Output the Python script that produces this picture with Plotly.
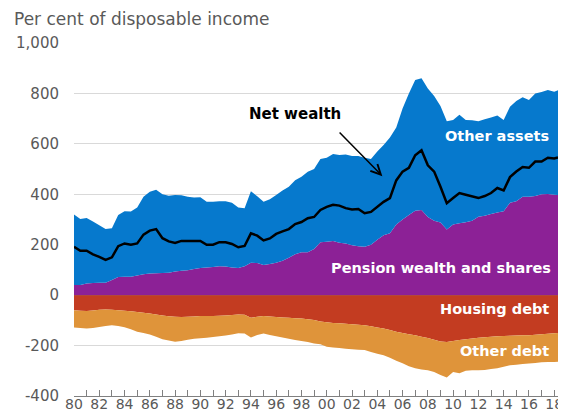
import plotly.graph_objects as go

# Half-yearly observations, 1980 to mid-2018 (per cent of disposable income)
periods = [1980 + 0.5 * i for i in range(77)] + [2018.3]

total_assets = [320, 302, 306, 292, 277, 262, 265, 318, 333, 332,
                348, 390, 410, 418, 400, 394, 397, 396, 390, 387,
                388, 370, 370, 372, 372, 366, 348, 345, 412, 392,
                370, 380, 397, 415, 430, 456, 470, 489, 500, 540,
                545, 560, 556, 558, 552, 552, 545, 540, 570, 595,
                625, 665, 740, 800, 853, 860, 820, 790, 750, 690,
                695, 715, 695, 694, 690, 698, 705, 712, 695, 747,
                770, 785, 774, 800, 806, 814, 807, 813]

pension_shares = [40, 40, 46, 48, 49, 49, 60, 72, 73, 73,
                  78, 83, 86, 87, 88, 89, 94, 97, 99, 104,
                  108, 110, 112, 115, 114, 110, 108, 115, 128, 127,
                  120, 124, 128, 136, 148, 162, 170, 170, 183, 210,
                  212, 215, 208, 205, 198, 194, 192, 200, 220, 238,
                  245, 280, 300, 318, 335, 338, 310, 295, 288, 260,
                  280, 285, 289, 295, 311, 315, 322, 328, 333, 366,
                  372, 390, 390, 393, 400, 401, 398, 397]

housing_debt = [60, 62, 63, 61, 58, 57, 58, 60, 62, 64,
                67, 70, 73, 77, 81, 84, 86, 87, 86, 85,
                83, 83, 83, 82, 81, 79, 77, 78, 90, 86,
                83, 85, 87, 89, 90, 92, 93, 96, 99, 105,
                108, 110, 111, 113, 115, 117, 119, 123, 128, 132,
                138, 145, 150, 155, 159, 165, 170, 177, 184, 186,
                182, 178, 175, 172, 169, 167, 165, 163, 162, 161,
                160, 159, 159, 157, 155, 153, 151, 150]

total_debt = [128, 130, 132, 130, 126, 122, 119, 122, 127, 135,
              145, 150, 156, 165, 175, 180, 185, 182, 177, 173,
              171, 169, 166, 163, 160, 156, 151, 152, 168, 158,
              152, 158, 163, 168, 173, 178, 182, 186, 192, 195,
              205, 208, 210, 213, 215, 217, 218, 225, 232, 238,
              248, 260, 270, 282, 290, 295, 298, 305, 317, 327,
              305, 310, 300, 298, 298, 297, 293, 290, 284, 278,
              276, 273, 271, 269, 266, 265, 265, 264]

net_wealth = [192, 176, 176, 162, 152, 140, 150, 194, 205, 200,
              205, 240, 256, 262, 226, 213, 207, 215, 215, 215,
              215, 200, 200, 210, 210, 203, 190, 195, 245, 236,
              217, 225, 243, 253, 262, 282, 290, 305, 310, 338,
              350, 358, 355, 345, 340, 342, 325, 330, 350, 370,
              385, 455, 490, 505, 555, 575, 515, 490, 430, 365,
              385, 405, 398, 393, 385, 393, 405, 425, 415, 468,
              490, 508, 505, 530, 530, 545, 542, 546]

year_ticks = list(range(1980, 2019))
year_labels = [f"{y % 100:02d}" if y % 2 == 0 else "" for y in year_ticks]
y_ticks = [-400, -200, 0, 200, 400, 600, 800, 1000]
y_labels = ["-400", "-200", "0", "200", "400", "600", "800", "1,000"]

other_assets = [t - p for t, p in zip(total_assets, pension_shares)]
other_debt = [d - h for d, h in zip(total_debt, housing_debt)]

BLUE = "#0679CD"
PURPLE = "#8C2196"
RED = "#C33C21"
ORANGE = "#DF943A"
FONT = "DejaVu Sans"

fig = go.Figure()
fig.add_trace(go.Scatter(x=periods, y=pension_shares, stackgroup="pos", mode="none",
                         fillcolor=PURPLE, name="Pension wealth and shares"))
fig.add_trace(go.Scatter(x=periods, y=other_assets, stackgroup="pos", mode="none",
                         fillcolor=BLUE, name="Other assets"))
fig.add_trace(go.Scatter(x=periods, y=[-v for v in housing_debt], stackgroup="neg", mode="none",
                         fillcolor=RED, name="Housing debt"))
fig.add_trace(go.Scatter(x=periods, y=[-v for v in other_debt], stackgroup="neg", mode="none",
                         fillcolor=ORANGE, name="Other debt"))
fig.add_trace(go.Scatter(x=periods, y=net_wealth, mode="lines",
                         line=dict(color="black", width=2.5), name="Net wealth"))

white_bold = dict(family=FONT, size=14.5, color="white")
fig.add_annotation(x=0.985, xref="paper", y=632, yref="y", text="<b>Other assets</b>",
                   showarrow=False, xanchor="right", yanchor="middle", font=white_bold)
fig.add_annotation(x=0.99, xref="paper", y=107, yref="y", text="<b>Pension wealth and shares</b>",
                   showarrow=False, xanchor="right", yanchor="middle", font=white_bold)
fig.add_annotation(x=0.985, xref="paper", y=-55, yref="y", text="<b>Housing debt</b>",
                   showarrow=False, xanchor="right", yanchor="middle", font=white_bold)
fig.add_annotation(x=0.985, xref="paper", y=-222, yref="y", text="<b>Other debt</b>",
                   showarrow=False, xanchor="right", yanchor="middle", font=white_bold)
fig.add_annotation(x=1997.5, y=720, text="<b>Net wealth</b>", showarrow=False,
                   xanchor="center", yanchor="middle",
                   font=dict(family=FONT, size=15, color="black"))
fig.add_annotation(x=2004.4, y=472, ax=2000.9, ay=651, axref="x", ayref="y", text="",
                   showarrow=True, arrowhead=5, arrowsize=1.3, arrowwidth=1.5,
                   arrowcolor="black")
fig.add_annotation(x=(12 - 74) / 484, xref="paper", y=(396 - 19) / 353, yref="paper",
                   text="Per cent of disposable income", showarrow=False,
                   xanchor="left", yanchor="middle",
                   font=dict(family=FONT, size=17, color="#595959"))

# The page body adds an 8 px offset, so the figure is 8 px smaller on each side.
fig.update_layout(
    width=558, height=406,
    margin=dict(l=66, r=8, t=35, b=18, autoexpand=False),
    paper_bgcolor="white", plot_bgcolor="white",
    showlegend=False,
    font=dict(family=FONT, size=15, color="#595959"),
)
fig.update_xaxes(
    range=[1980, 2018.3], tickmode="array", tickvals=year_ticks, ticktext=year_labels,
    ticks="inside", ticklen=6, tickcolor="#808080", tickwidth=1,
    showline=True, linecolor="#808080", linewidth=1,
    showgrid=False, zeroline=False, automargin=False, ticklabelstandoff=-5,
    tickfont=dict(family=FONT, size=14, color="#595959"),
)
fig.update_yaxes(
    range=[-400, 1000], tickmode="array", tickvals=y_ticks, ticktext=y_labels,
    showgrid=True, gridcolor="#D9D9D9", gridwidth=1,
    zeroline=True, zerolinecolor="#808080", zerolinewidth=1.5,
    layer="above traces", ticks="", ticklabelstandoff=14, automargin=False,
    tickfont=dict(family=FONT, size=15, color="#595959"),
)

fig.write_html("out.html")
